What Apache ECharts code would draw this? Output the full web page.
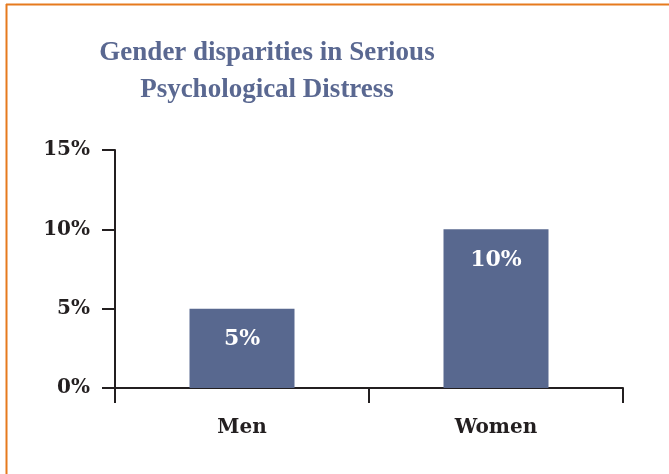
<!DOCTYPE html>
<html>
<head>
<meta charset="utf-8">
<script src="https://cdn.jsdelivr.net/npm/echarts@6/dist/echarts.min.js"></script>
<style>
  html, body { margin: 0; padding: 0; background: #ffffff; }
  #chart { width: 669px; height: 474px; }
</style>
</head>
<body>
<div id="chart"></div>
<script>
// Share of adults with serious psychological distress, by gender
const titleLines = ['Gender disparities in Serious', 'Psychological Distress'];
const categories = ['Men', 'Women'];
const distressPct = [5, 10];
const yTicks = [0, 5, 10, 15];

const ink = '#231f20';
const barColor = '#58688f';
const frameColor = '#e67a1e';

const chart = echarts.init(document.getElementById('chart'), null, { renderer: 'canvas' });

chart.setOption({
  backgroundColor: '#ffffff',
  animation: false,
  title: {
    text: titleLines.join('\n'),
    left: 262,
    top: 30,
    textAlign: 'center',
    textStyle: {
      fontFamily: 'Liberation Serif',
      fontWeight: 'bold',
      fontSize: 27,
      lineHeight: 37,
      color: '#5a6891'
    }
  },
  graphic: [
    { type: 'line', silent: true, shape: { x1: 6, y1: 4.5, x2: 669, y2: 4.5 },
      style: { stroke: frameColor, lineWidth: 2 } },
    { type: 'line', silent: true, shape: { x1: 6.5, y1: 4, x2: 6.5, y2: 474 },
      style: { stroke: frameColor, lineWidth: 2 } }
  ],
  grid: { left: 115, right: 46, top: 150, bottom: 86, containLabel: false },
  xAxis: {
    type: 'category',
    data: categories,
    axisLine: { show: true, lineStyle: { color: ink, width: 2 } },
    axisTick: { show: true, alignWithLabel: false, length: 15, lineStyle: { color: ink, width: 2 } },
    axisLabel: {
      margin: 30,
      fontFamily: 'DejaVu Serif',
      fontWeight: 'bold',
      fontSize: 20,
      color: ink
    },
    splitLine: { show: false }
  },
  yAxis: {
    type: 'value',
    min: yTicks[0],
    max: yTicks[yTicks.length - 1],
    interval: yTicks[1] - yTicks[0],
    axisLine: { show: true, lineStyle: { color: ink, width: 2 } },
    axisTick: { show: true, length: 13, lineStyle: { color: ink, width: 2 } },
    axisLabel: {
      margin: 25,
      fontFamily: 'DejaVu Serif',
      fontWeight: 'bold',
      fontSize: 20,
      color: ink,
      formatter: v => v + '%'
    },
    splitLine: { show: false }
  },
  series: [{
    type: 'bar',
    data: distressPct,
    barWidth: 105,
    itemStyle: { color: barColor },
    label: {
      show: true,
      position: 'insideTop',
      distance: 20,
      fontFamily: 'DejaVu Serif',
      fontWeight: 'bold',
      fontSize: 22,
      color: '#ffffff',
      formatter: p => Math.round(p.value) + '%'
    }
  }]
});
</script>
</body>
</html>
